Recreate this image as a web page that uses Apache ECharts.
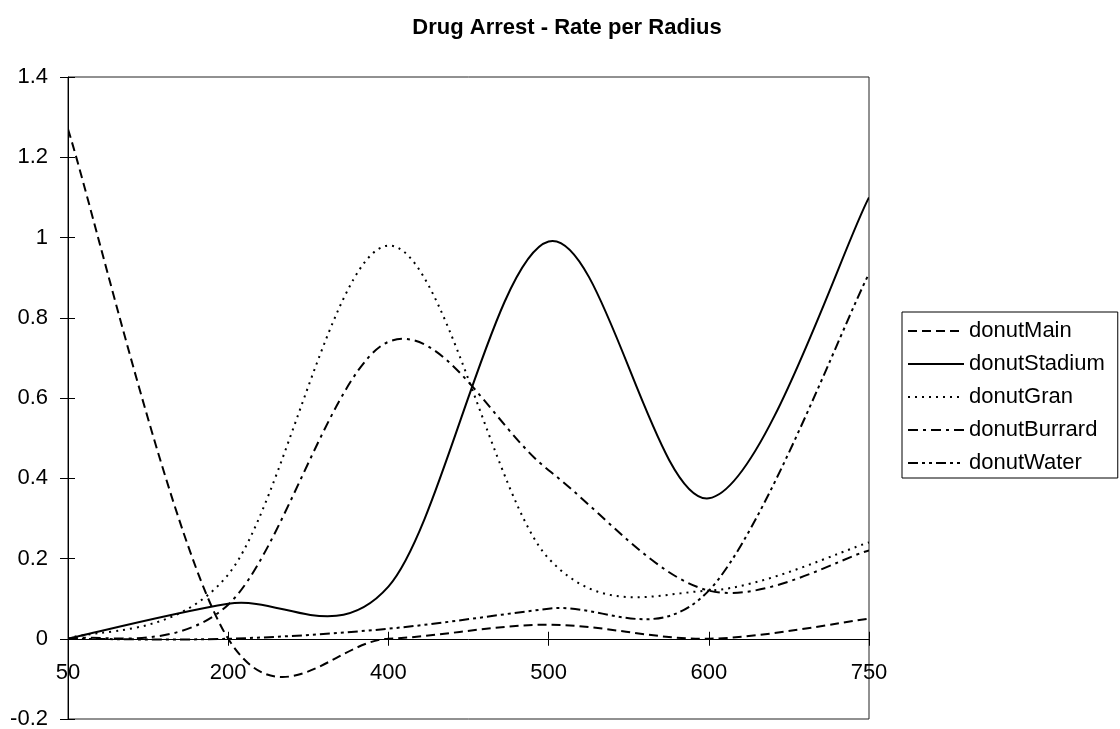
<!DOCTYPE html>
<html>
<head>
<meta charset="utf-8">
<script src="https://cdn.jsdelivr.net/npm/echarts@6/dist/echarts.min.js"></script>
<style>html,body{margin:0;padding:0;background:#fff;}#c{width:1120px;height:729px;}</style>
</head>
<body>
<div id="c"></div>
<script>
const categories = ['50', '200', '400', '500', '600', '750'];
const donutMain = [1.27, 0, 0, 0.035, 0, 0.05];
const donutStadium = [0, 0.087, 0.13, 0.99, 0.35, 1.10];
const donutGran = [0, 0.16, 0.98, 0.2, 0.12, 0.24];
const donutBurrard = [0, 0.085, 0.74, 0.42, 0.12, 0.22];
const donutWater = [0, 0, 0.025, 0.075, 0.12, 0.91];
const yTicks = {min: -0.2, max: 1.4, interval: 0.2};

const seriesNames = ['donutMain', 'donutStadium', 'donutGran', 'donutBurrard', 'donutWater'];
const seriesData = [donutMain, donutStadium, donutGran, donutBurrard, donutWater];
const dashes = [[9, 5], null, [2, 5], [10, 5, 3, 5], [10, 4, 3, 4, 3, 4]];

const FONT = 'Liberation Sans, Arial, sans-serif';
const GRID = {left: 68, right: 251, top: 77, bottom: 10};
// distance (px) from the grid bottom up to the zero line
const plotH = 729 - GRID.top - GRID.bottom;
const zeroOffset = plotH * (0 - yTicks.min) / (yTicks.max - yTicks.min);

// Excel-like smoothed line (Catmull-Rom style Bezier through the data points)
function smoothCustom(name, values, dash) {
  return {
    name: name, type: 'custom', silent: true, clip: true, z: 3,
    data: values.map((v, i) => [i, v]),
    encode: {x: 0, y: 1},
    renderItem: function (params, api) {
      if (params.dataIndex !== 0) return null;
      const pts = values.map((v, i) => api.coord([i, v]));
      const n = pts.length;
      let d = 'M' + pts[0][0] + ',' + pts[0][1];
      for (let i = 0; i < n - 1; i++) {
        const p0 = pts[Math.max(i - 1, 0)], p1 = pts[i], p2 = pts[i + 1], p3 = pts[Math.min(i + 2, n - 1)];
        const c1x = p1[0] + (p2[0] - p0[0]) / 6, c1y = p1[1] + (p2[1] - p0[1]) / 6;
        const c2x = p2[0] - (p3[0] - p1[0]) / 6, c2y = p2[1] - (p3[1] - p1[1]) / 6;
        d += ' C' + c1x + ',' + c1y + ' ' + c2x + ',' + c2y + ' ' + p2[0] + ',' + p2[1];
      }
      return {
        type: 'path',
        shape: {pathData: d},
        style: {fill: 'none', stroke: '#000', lineWidth: 2, lineDash: dash || null}
      };
    }
  };
}

const legendSeries = seriesNames.map((n, i) => ({
  name: n, type: 'line', data: seriesData[i], silent: true,
  symbol: 'none', showSymbol: false,
  lineStyle: {color: '#000', width: 2, type: dashes[i] || 'solid', opacity: 0},
  itemStyle: {color: '#000', opacity: 0}
}));
const drawSeries = seriesNames.map((n, i) => smoothCustom(n, seriesData[i], dashes[i]));

const chart = echarts.init(document.getElementById('c'), null, {renderer: 'canvas'});
chart.setOption({
  animation: false,
  backgroundColor: '#fff',
  title: {
    text: 'Drug Arrest - Rate per Radius',
    left: 562, top: 12, textAlign: 'center',
    textStyle: {fontFamily: FONT, fontWeight: 'bold', fontSize: 22, color: '#000'}
  },
  grid: Object.assign({show: true, borderColor: '#222', borderWidth: 1, backgroundColor: 'transparent', containLabel: false, outerBoundsMode: 'none'}, GRID),
  legend: {
    orient: 'vertical', left: 902, top: 312,
    itemWidth: 56, itemHeight: 12, itemGap: 11,
    padding: [8, 13, 4, 5],
    borderColor: '#000', borderWidth: 1,
    textStyle: {fontFamily: FONT, fontSize: 22, color: '#000', lineHeight: 21},
    itemStyle: {opacity: 0},
    lineStyle: {opacity: 1, width: 2, color: '#000'},
    data: seriesNames
  },
  xAxis: [{
    type: 'category', data: categories, boundaryGap: false, position: 'bottom', offset: -zeroOffset,
    axisLine: {onZero: false, lineStyle: {color: '#000', width: 1}},
    axisTick: {show: true, length: 7, inside: false, lineStyle: {color: '#000'}},
    axisLabel: {fontFamily: FONT, fontSize: 22, color: '#000', margin: 23, showMinLabel: true, showMaxLabel: true, interval: 0},
    splitLine: {show: false}
  }, {
    type: 'category', data: categories, boundaryGap: false, position: 'bottom', offset: -zeroOffset,
    axisLine: {show: false, onZero: false},
    axisTick: {show: true, length: 7, inside: true, lineStyle: {color: '#000'}},
    axisLabel: {show: false},
    splitLine: {show: false}
  }],
  yAxis: [{
    type: 'value', min: yTicks.min, max: yTicks.max, interval: yTicks.interval,
    axisLine: {show: true, onZero: false, lineStyle: {color: '#000'}},
    axisTick: {show: true, length: 8, inside: false, lineStyle: {color: '#000'}},
    axisLabel: {fontFamily: FONT, fontSize: 22, color: '#000', margin: 20},
    splitLine: {show: false}
  }, {
    type: 'value', min: yTicks.min, max: yTicks.max, interval: yTicks.interval, position: 'left',
    axisLine: {show: false, onZero: false},
    axisTick: {show: true, length: 7, inside: true, lineStyle: {color: '#000'}},
    axisLabel: {show: false},
    splitLine: {show: false}
  }],
  series: legendSeries.concat(drawSeries)
});
</script>
</body>
</html>
